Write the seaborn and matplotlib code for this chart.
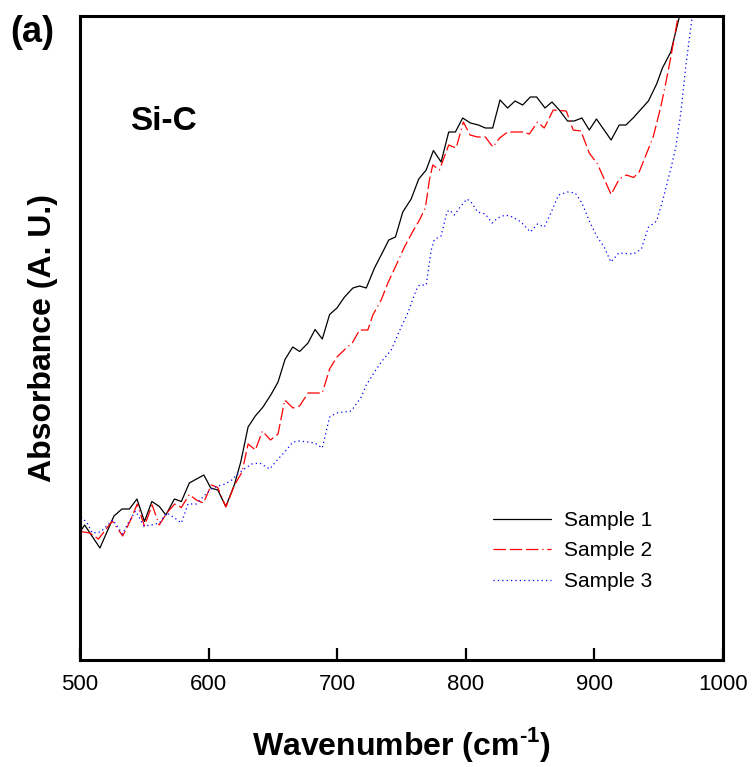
import numpy as np
import pandas as pd
import matplotlib
matplotlib.use("Agg")
import matplotlib.pyplot as plt
import seaborn as sns

# ---- data ----
wn1 = [500.5, 503.6, 515.5, 526.4, 532.6, 538.4, 544.3, 550.1, 555.9, 561.7, 566.8, 573.4, 578.8, 585.0,
       596.3, 601.7, 607.1, 613.4, 620.0, 625.0, 630.7, 636.3, 642.3, 648.8, 654.0, 659.4, 665.4, 670.8,
       677.3, 682.8, 688.4, 694.1, 699.8, 705.7, 712.2, 717.4, 722.6, 729.0, 735.0, 740.1, 745.3, 751.0,
       757.5, 763.4, 769.2, 774.8, 780.8, 786.7, 791.9, 797.6, 803.6, 809.8, 815.2, 820.9, 826.6, 832.5,
       838.3, 844.2, 850.2, 855.1, 861.6, 867.0, 872.7, 879.1, 884.3, 890.3, 896.0, 901.6, 913.0, 919.3,
       924.5, 930.1, 942.0, 948.4, 952.9, 959.4, 966.4, 970.0]
s1 = [1.29, 1.35, 1.12, 1.44, 1.51, 1.51, 1.61, 1.385, 1.585, 1.535, 1.45, 1.61, 1.585, 1.77,
      1.85, 1.72, 1.70, 1.535, 1.75, 1.98, 2.33, 2.44, 2.53, 2.66, 2.78, 3.005, 3.13, 3.085,
      3.17, 3.305, 3.21, 3.455, 3.52, 3.63, 3.72, 3.74, 3.72, 3.92, 4.07, 4.20, 4.23, 4.48,
      4.61, 4.81, 4.90, 5.095, 4.98, 5.28, 5.28, 5.42, 5.37, 5.35, 5.32, 5.32, 5.60, 5.52,
      5.59, 5.55, 5.63, 5.63, 5.52, 5.58, 5.50, 5.39, 5.39, 5.42, 5.30, 5.41, 5.20, 5.35,
      5.35, 5.42, 5.59, 5.76, 5.92, 6.08, 6.45, 6.80]

wn2 = [500.5, 507.6, 514.4, 525.1, 533.2, 539.4, 544.5, 550.1, 556.1, 561.6, 567.5, 573.6, 578.8, 585.0,
       590.4, 596.0, 602.1, 607.1, 613.4, 620.2, 626.0, 630.7, 636.4, 641.8, 648.1, 654.0, 659.2, 665.6,
       670.8, 677.3, 688.4, 694.1, 699.8, 707.1, 711.7, 717.4, 723.8, 727.7, 734.2, 739.4, 745.9, 752.3,
       758.3, 764.0, 768.6, 771.7, 774.3, 779.5, 786.7, 792.5, 798.1, 803.3, 809.2, 815.2, 821.1, 826.3,
       832.5, 844.2, 849.4, 855.8, 861.0, 868.0, 878.1, 883.5, 889.5, 896.0, 902.4, 913.0, 919.3, 924.9,
       930.5, 934.8, 945.7, 951.6, 955.5, 959.3, 965.3, 969.0]
s2 = [1.285, 1.27, 1.21, 1.39, 1.24, 1.40, 1.56, 1.34, 1.55, 1.35, 1.47, 1.56, 1.525, 1.655,
      1.60, 1.57, 1.75, 1.725, 1.53, 1.75, 1.88, 2.16, 2.10, 2.29, 2.20, 2.26, 2.60, 2.52,
      2.54, 2.67, 2.67, 2.91, 3.03, 3.12, 3.17, 3.30, 3.30, 3.45, 3.60, 3.77, 3.95, 4.13,
      4.275, 4.40, 4.525, 4.80, 4.95, 4.90, 5.15, 5.12, 5.38, 5.25, 5.23, 5.23, 5.13, 5.22,
      5.28, 5.28, 5.26, 5.38, 5.32, 5.50, 5.49, 5.30, 5.29, 5.07, 4.96, 4.655, 4.81, 4.85,
      4.825, 4.88, 5.23, 5.53, 5.77, 6.02, 6.45, 6.80]

wn3 = [500.8, 505.4, 509.5, 515.9, 525.6, 533.1, 537.4, 543.2, 549.7, 555.7, 561.6, 567.5, 573.6, 578.8,
       584.0, 590.4, 596.3, 602.1, 607.2, 612.8, 618.0, 623.4, 628.9, 633.5, 639.7, 647.5, 654.0, 659.2,
       665.6, 670.3, 677.3, 682.5, 688.4, 694.1, 699.3, 710.9, 718.7, 722.6, 729.0, 735.5, 742.0, 748.4,
       754.9, 761.4, 764.0, 769.2, 773.1, 775.6, 780.8, 785.3, 787.3, 791.1, 795.6, 800.9, 804.1, 809.2,
       815.1, 820.5, 824.8, 830.7, 836.4, 842.9, 850.2, 855.8, 861.0, 866.2, 872.1, 879.1, 885.1, 890.3,
       896.7, 902.2, 907.6, 912.8, 919.0, 930.3, 936.5, 941.9, 948.4, 953.4, 959.4, 963.3, 967.2, 971.0,
       976.2, 979.0]
s3 = [1.43, 1.375, 1.27, 1.28, 1.40, 1.26, 1.37, 1.49, 1.34, 1.35, 1.37, 1.47, 1.42, 1.37,
      1.56, 1.56, 1.64, 1.71, 1.74, 1.76, 1.80, 1.87, 1.92, 1.96, 1.97, 1.91, 2.01, 2.08,
      2.18, 2.19, 2.18, 2.17, 2.12, 2.43, 2.47, 2.49, 2.63, 2.75, 2.88, 3.00, 3.10, 3.29,
      3.47, 3.70, 3.75, 3.75, 4.10, 4.205, 4.24, 4.48, 4.50, 4.45, 4.53, 4.61, 4.58, 4.48,
      4.46, 4.37, 4.42, 4.45, 4.43, 4.38, 4.28, 4.36, 4.33, 4.47, 4.65, 4.68, 4.67, 4.57,
      4.37, 4.23, 4.13, 3.98, 4.07, 4.06, 4.11, 4.325, 4.39, 4.61, 4.91, 5.13, 5.47, 5.93,
      6.45, 6.80]

labels = ["Sample 1", "Sample 2", "Sample 3"]
colors = ["#000000", "#ff0000", "#0000ff"]
xticks = [500, 600, 700, 800, 900, 1000]

df = pd.concat([
    pd.DataFrame({"wn": wn1, "abs": s1, "sample": labels[0]}),
    pd.DataFrame({"wn": wn2, "abs": s2, "sample": labels[1]}),
    pd.DataFrame({"wn": wn3, "abs": s3, "sample": labels[2]}),
], ignore_index=True)

sns.set_style("white")
plt.rcParams["font.family"] = ["Liberation Sans", "DejaVu Sans"]
plt.rcParams["mathtext.fontset"] = "custom"
plt.rcParams["mathtext.rm"] = "Liberation Sans:bold"
plt.rcParams["mathtext.bf"] = "Liberation Sans:bold"
plt.rcParams["text.color"] = "black"
plt.rcParams["axes.labelcolor"] = "black"
plt.rcParams["xtick.color"] = "black"
plt.rcParams["ytick.color"] = "black"

fig = plt.figure(figsize=(7.54, 7.67), dpi=100)
ax = fig.add_axes([80 / 754, 1 - 660 / 767, 643 / 754, 644 / 767])

styles = {labels[0]: "", labels[1]: (10, 3, 10, 3, 10, 3, 1, 3), labels[2]: (1, 2.5)}
sns.lineplot(data=df, x="wn", y="abs", hue="sample", style="sample",
             palette=dict(zip(labels, colors)), dashes=styles,
             estimator=None, sort=False, linewidth=0.9, ax=ax)

ax.set_xlim(500, 1000)
ax.set_ylim(0, 6.44)
ax.set_xticks(xticks)
ax.set_xticklabels([str(t) for t in xticks])
ax.set_yticks([])
ax.tick_params(axis="x", direction="in", length=8.5, width=1.6, pad=10, labelsize=16,
               bottom=True, top=False, colors="black")
for sp in ax.spines.values():
    sp.set_visible(True)
    sp.set_linewidth(2.2)
    sp.set_color("black")

ax.set_xlabel(r"Wavenumber (cm$^{\mathbf{\text{-}1}}$)", fontsize=23, fontweight="bold", labelpad=22, color="black")
ax.set_ylabel("Absorbance (A. U.)", fontsize=23, fontweight="bold", labelpad=16, color="black")

fig.text(10 / 754, 1 - 33 / 767, "(a)", fontsize=26, fontweight="bold", va="center", ha="left", color="black")
ax.text((163 - 80) / 643, (660 - 121) / 644, "Si-C", transform=ax.transAxes, fontsize=24,
        fontweight="bold", ha="center", va="center", color="black")

handles, _ = ax.get_legend_handles_labels()
leg = ax.legend(handles=handles, labels=labels, loc="upper left",
                bbox_to_anchor=((493 - 80) / 643, (660 - 511) / 644),
                frameon=False, fontsize=15, handlelength=2.8, handletextpad=0.6, labelspacing=0.55,
                borderpad=0, borderaxespad=0)
for t in leg.get_texts():
    t.set_color("black")

fig.savefig("out.png", dpi=100)
